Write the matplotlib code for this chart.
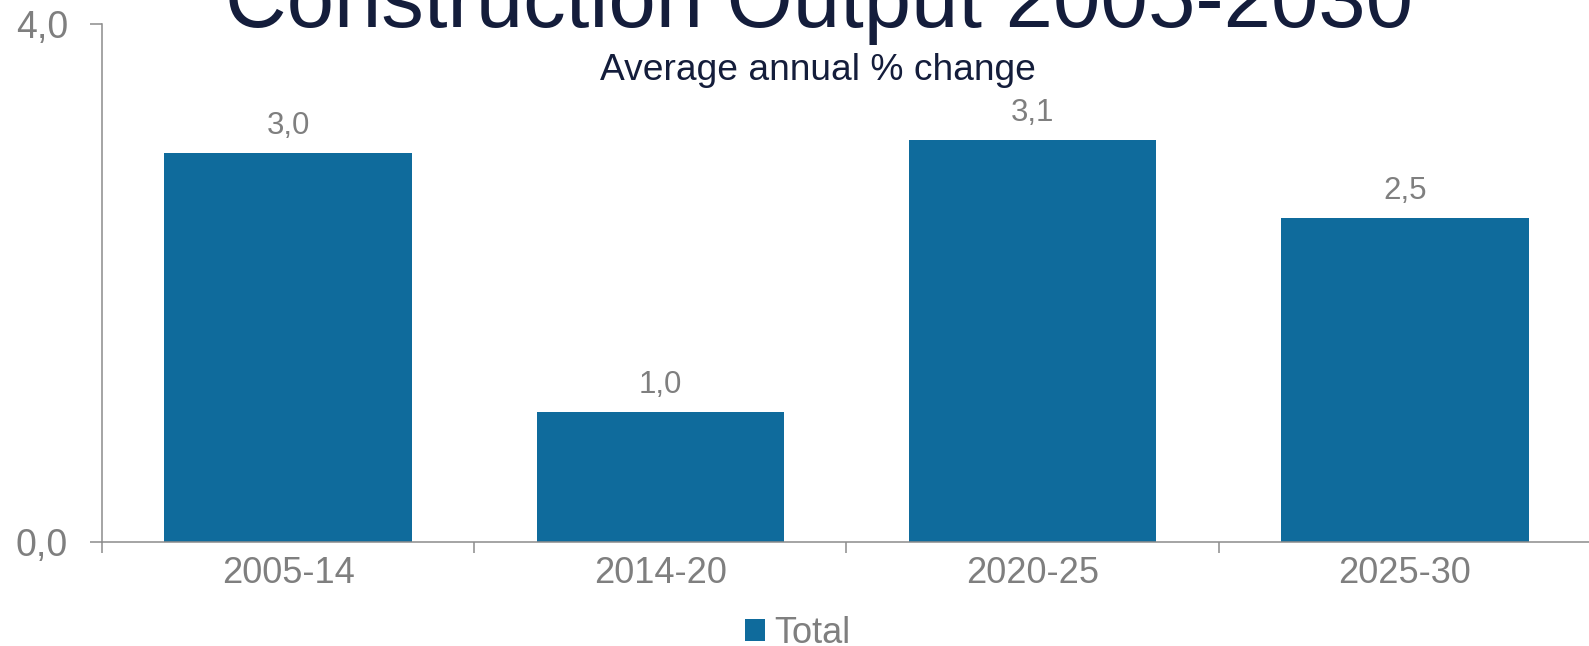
import matplotlib.pyplot as plt
from matplotlib.ticker import FixedLocator

PERIODS = ["2005-14", "2014-20", "2020-25", "2025-30"]
TOTAL = [3.0, 1.0, 3.1, 2.5]
Y_TICKS = [0.0, 4.0]
Y_TICK_LABELS = ["0,0", "4,0"]

TITLE = "Construction Output 2005-2030"
SUBTITLE = "Average annual % change"

BAR_COLOR = "#0f6b9c"
TEXT_GREY = "#7f7f7f"
AXIS_GREY = "#8c8c8c"
NAVY = "#141d3b"


def main():
    plt.rcParams["font.family"] = ["Liberation Sans", "DejaVu Sans"]

    fig = plt.figure(figsize=(15.89, 6.46), dpi=100)
    ax = fig.add_axes([0.0642, 0.1615, 0.937, 0.8015])

    x = list(range(len(PERIODS)))
    bars = ax.bar(x, TOTAL, width=0.665, color=BAR_COLOR, label="Total")

    for xi, v in zip(x, TOTAL):
        ax.annotate("{:.1f}".format(v).replace(".", ","), (xi, v),
                    xytext=(0, 9), textcoords="offset points",
                    ha="center", va="bottom", fontsize=22.5, color=TEXT_GREY)

    ax.set_xlim(-0.5, len(PERIODS) - 0.5)
    ax.set_ylim(0, 4)

    ax.set_yticks(Y_TICKS)
    ax.set_yticklabels(Y_TICK_LABELS)
    ax.set_xticks(x)
    ax.set_xticklabels(PERIODS)
    # tick marks sit between the categories
    ax.xaxis.set_minor_locator(FixedLocator([i - 0.5 for i in range(len(PERIODS) + 1)]))

    ax.tick_params(axis="x", which="major", length=0, pad=10, labelsize=26, labelcolor=TEXT_GREY)
    ax.tick_params(axis="x", which="minor", length=8, width=1.1, color=AXIS_GREY, direction="out")
    ax.tick_params(axis="y", length=8.5, width=1.1, color=AXIS_GREY, pad=16,
                   labelsize=27, labelcolor=TEXT_GREY, direction="out")

    for side in ["top", "right"]:
        ax.spines[side].set_visible(False)
    for side in ["left", "bottom"]:
        ax.spines[side].set_color(AXIS_GREY)
        ax.spines[side].set_linewidth(1.1)
        ax.spines[side].set_clip_on(False)

    fig.text(0.5155, 0.958, TITLE, ha="center", va="baseline", fontsize=61.3, color=NAVY)
    fig.text(0.5145, 0.8755, SUBTITLE, ha="center", va="baseline", fontsize=26.7, color=NAVY)

    fig.legend(handles=[bars], labels=["Total"], loc="lower center",
               bbox_to_anchor=(0.502, -0.007), frameon=False, fontsize=26,
               labelcolor=TEXT_GREY, handlelength=0.55, handleheight=0.55,
               handletextpad=0.25, borderpad=0, borderaxespad=0)

    plt.savefig("out.png", dpi=100)


if __name__ == "__main__":
    main()
